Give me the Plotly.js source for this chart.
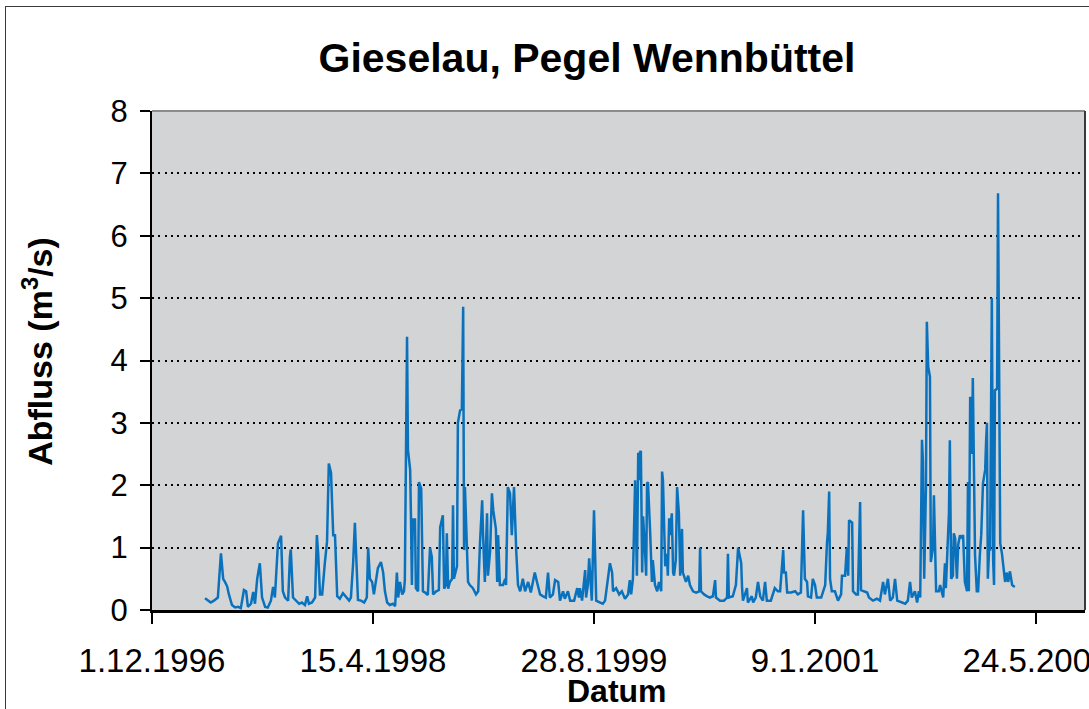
<!DOCTYPE html>
<html>
<head>
<meta charset="utf-8">
<script src="https://cdn.plot.ly/plotly-3.0.1.min.js"></script>
<style>
  html, body { margin: 0; padding: 0; background: #ffffff; overflow: hidden; }
  #wrap { position: relative; width: 1089px; height: 709px; }
  #chart { position: absolute; left: 0; top: 0; width: 1089px; height: 709px; }
  #frame { position: absolute; left: 5px; top: 6px; width: 1200px; height: 800px;
           border: 1.5px solid #3a3a3a; box-sizing: border-box; pointer-events: none; }
</style>
</head>
<body>
<div id="wrap">
  <div id="chart"></div>
  <div id="frame"></div>
</div>
<script>
// Daily discharge, Gieselau at gauge Wennbüttel
const dates = [
  '1997-03-31','1997-04-07','1997-04-13','1997-04-20','1997-04-29','1997-05-06','1997-05-11','1997-05-15',
  '1997-05-20','1997-05-24','1997-05-31','1997-06-07','1997-06-14','1997-06-20','1997-06-27','1997-07-02',
  '1997-07-06','1997-07-13','1997-07-18','1997-07-22','1997-07-27','1997-08-02','1997-08-07','1997-08-14',
  '1997-08-20','1997-08-27','1997-09-01','1997-09-05','1997-09-12','1997-09-19','1997-09-23','1997-09-28',
  '1997-10-05','1997-10-09','1997-10-11','1997-10-16','1997-10-23','1997-10-30','1997-11-05','1997-11-12',
  '1997-11-17','1997-11-21','1997-11-28','1997-12-05','1997-12-09','1997-12-12','1997-12-16','1997-12-21',
  '1997-12-27','1998-01-01','1998-01-05','1998-01-10','1998-01-15','1998-01-19','1998-01-24','1998-01-30',
  '1998-02-06','1998-02-13','1998-02-20','1998-02-24','1998-03-01','1998-03-05','1998-03-10','1998-03-12',
  '1998-03-19','1998-03-26','1998-04-01','1998-04-04','1998-04-08','1998-04-13','1998-04-17','1998-04-22',
  '1998-04-26','1998-05-03','1998-05-08','1998-05-12','1998-05-17','1998-05-23','1998-05-30','1998-06-04',
  '1998-06-08','1998-06-11','1998-06-15','1998-06-20','1998-06-24','1998-06-26','1998-07-01','1998-07-03',
  '1998-07-08','1998-07-10','1998-07-12','1998-07-14','1998-07-19','1998-07-21','1998-07-26','1998-07-28',
  '1998-08-02','1998-08-06','1998-08-11','1998-08-17','1998-08-22','1998-08-26','1998-08-29','1998-09-05',
  '1998-09-11','1998-09-14','1998-09-18','1998-09-20','1998-09-23','1998-09-27','1998-09-29','1998-10-02',
  '1998-10-06','1998-10-11','1998-10-13','1998-10-15','1998-10-22','1998-10-24','1998-10-29','1998-11-02',
  '1998-11-05','1998-11-07','1998-11-09','1998-11-14','1998-11-16','1998-11-20','1998-11-27','1998-12-04',
  '1998-12-09','1998-12-13','1998-12-18','1998-12-20','1998-12-24','1998-12-29','1998-12-31','1999-01-05',
  '1999-01-09','1999-01-12','1999-01-18','1999-01-21','1999-01-23','1999-01-27','1999-02-03','1999-02-08',
  '1999-02-10','1999-02-14','1999-02-19','1999-02-23','1999-02-28','1999-03-05','1999-03-09','1999-03-14',
  '1999-03-20','1999-03-25','1999-04-01','1999-04-07','1999-04-16','1999-04-21','1999-04-28','1999-05-05',
  '1999-05-11','1999-05-16','1999-05-20','1999-05-27','1999-06-01','1999-06-08','1999-06-12','1999-06-19',
  '1999-06-23','1999-06-30','1999-07-05','1999-07-14','1999-07-21','1999-07-25','1999-07-27','1999-08-01',
  '1999-08-08','1999-08-10','1999-08-14','1999-08-17','1999-08-21','1999-08-23','1999-08-28','1999-09-02',
  '1999-09-11','1999-09-17','1999-09-22','1999-09-26','1999-10-03','1999-10-08','1999-10-10','1999-10-17',
  '1999-10-24','1999-10-30','1999-11-06','1999-11-13','1999-11-17','1999-11-20','1999-11-24','1999-11-29',
  '1999-12-03','1999-12-06','1999-12-08','1999-12-10','1999-12-12','1999-12-15','1999-12-17','1999-12-21',
  '1999-12-24','1999-12-26','1999-12-28','2000-01-02','2000-01-06','2000-01-08','2000-01-13','2000-01-18',
  '2000-01-22','2000-01-27','2000-01-29','2000-01-31','2000-02-05','2000-02-09','2000-02-11','2000-02-14',
  '2000-02-16','2000-02-20','2000-02-23','2000-02-25','2000-02-29','2000-03-03','2000-03-07','2000-03-10',
  '2000-03-14','2000-03-16','2000-03-23','2000-03-28','2000-04-01','2000-04-08','2000-04-15','2000-04-22',
  '2000-04-24','2000-04-26','2000-05-03','2000-05-10','2000-05-16','2000-05-23','2000-05-28','2000-05-30',
  '2000-06-08','2000-06-17','2000-06-24','2000-06-26','2000-06-28','2000-07-07','2000-07-14','2000-07-19',
  '2000-07-26','2000-07-28','2000-07-30','2000-08-08','2000-08-10','2000-08-19','2000-08-22','2000-08-28',
  '2000-09-02','2000-09-07','2000-09-13','2000-09-18','2000-09-22','2000-10-01','2000-10-10','2000-10-17',
  '2000-10-22','2000-10-29','2000-10-31','2000-11-04','2000-11-07','2000-11-16','2000-11-25','2000-12-01',
  '2000-12-08','2000-12-13','2000-12-17','2000-12-22','2000-12-24','2000-12-31','2001-01-04','2001-01-09',
  '2001-01-13','2001-01-23','2001-02-01','2001-02-05','2001-02-07','2001-02-10','2001-02-12','2001-02-16',
  '2001-02-23','2001-03-02','2001-03-09','2001-03-11','2001-03-18','2001-03-22','2001-03-25','2001-03-27',
  '2001-04-03','2001-04-05','2001-04-12','2001-04-16','2001-04-21','2001-04-23','2001-04-30','2001-05-07',
  '2001-05-11','2001-05-20','2001-05-29','2001-06-05','2001-06-12','2001-06-16','2001-06-23','2001-06-28',
  '2001-07-04','2001-07-09','2001-07-14','2001-07-23','2001-08-01','2001-08-07','2001-08-12','2001-08-16',
  '2001-08-23','2001-08-28','2001-09-01','2001-09-04','2001-09-08','2001-09-10','2001-09-13','2001-09-17',
  '2001-09-19','2001-09-22','2001-09-26','2001-09-28','2001-10-03','2001-10-05','2001-10-10','2001-10-16',
  '2001-10-19','2001-10-26','2001-10-30','2001-11-01','2001-11-06','2001-11-08','2001-11-10','2001-11-13',
  '2001-11-17','2001-11-19','2001-11-22','2001-11-26','2001-11-29','2001-12-03','2001-12-05','2001-12-10',
  '2001-12-14','2001-12-19','2001-12-21','2001-12-23','2001-12-26','2001-12-30','2002-01-01','2002-01-06',
  '2002-01-10','2002-01-13','2002-01-17','2002-01-20','2002-01-24','2002-01-29','2002-01-31','2002-02-02',
  '2002-02-04','2002-02-07','2002-02-09','2002-02-13','2002-02-16','2002-02-18','2002-02-20','2002-02-25',
  '2002-02-27','2002-03-04','2002-03-08','2002-03-10','2002-03-15','2002-03-19','2002-03-22','2002-03-26',
  '2002-03-31','2002-04-06'
];

const abfluss = [
  0.19,0.15,0.12,0.15,0.20,0.91,0.50,0.45,
  0.38,0.25,0.08,0.04,0.05,0.03,0.32,0.30,
  0.05,0.10,0.29,0.10,0.50,0.75,0.20,0.05,
  0.04,0.15,0.37,0.20,1.07,1.19,0.30,0.20,
  0.15,0.85,0.97,0.20,0.15,0.10,0.12,0.08,
  0.22,0.10,0.12,0.20,1.20,0.90,0.25,0.25,
  0.75,1.10,2.35,2.20,1.20,1.20,0.22,0.18,
  0.27,0.20,0.15,0.20,0.75,1.40,0.65,0.16,
  0.15,0.12,0.20,1.00,0.50,0.45,0.25,0.50,
  0.67,0.77,0.60,0.30,0.12,0.08,0.10,0.06,
  0.60,0.20,0.45,0.25,0.30,0.48,4.38,2.57,
  2.25,1.45,0.40,1.45,1.45,0.35,0.30,2.05,
  1.95,0.30,0.28,0.24,1.00,0.85,0.25,0.30,
  0.32,1.33,1.45,1.52,0.34,0.40,1.23,0.34,
  0.45,0.50,1.68,0.50,0.70,3.00,3.20,3.22,
  4.86,0.96,1.97,0.80,0.45,0.40,0.35,0.25,
  0.30,1.07,1.76,1.20,0.45,1.55,0.55,0.95,
  1.87,1.60,1.30,0.45,1.20,0.40,0.40,0.50,
  0.40,1.97,1.87,1.20,1.97,0.95,0.40,0.30,
  0.50,0.30,0.45,0.28,0.60,0.45,0.25,0.22,
  0.20,0.60,0.20,0.25,0.48,0.45,0.15,0.30,
  0.18,0.30,0.15,0.15,0.35,0.20,0.35,0.15,
  0.64,0.20,0.40,0.83,0.40,0.15,1.60,0.15,
  0.12,0.10,0.15,0.40,0.75,0.60,0.30,0.35,
  0.25,0.30,0.18,0.25,0.48,0.25,0.50,2.08,
  0.55,2.52,2.08,2.53,2.55,0.60,1.50,1.00,
  0.55,2.03,2.05,1.25,0.45,0.80,0.40,0.30,
  0.45,0.30,2.22,2.08,0.70,0.90,0.55,1.47,
  1.20,1.55,0.60,0.55,0.80,1.97,1.55,0.55,
  1.30,0.60,0.45,0.55,0.40,0.30,0.28,0.30,
  1.00,0.30,0.25,0.22,0.20,0.22,0.48,0.20,
  0.15,0.15,0.20,0.90,0.20,0.22,0.40,1.00,
  0.75,0.35,0.15,0.35,0.12,0.22,0.12,0.20,
  0.45,0.22,0.15,0.45,0.15,0.15,0.35,0.30,
  0.30,0.96,0.60,0.60,0.28,0.28,0.30,0.25,
  0.28,1.60,0.50,0.45,0.22,0.20,0.50,0.40,
  0.20,0.20,0.40,1.07,1.25,1.90,0.50,0.30,
  0.30,0.15,0.25,0.55,0.55,1.00,0.55,1.44,
  1.40,0.30,0.25,0.25,1.73,0.32,0.30,0.28,
  0.20,0.15,0.18,0.15,0.45,0.25,0.50,0.15,
  0.20,0.50,0.15,0.12,0.10,0.15,0.45,0.20,
  0.30,0.12,0.30,0.20,2.73,2.40,0.50,2.00,
  4.62,3.90,3.74,0.77,1.00,1.84,0.30,0.30,
  0.40,0.20,0.75,0.35,1.33,1.55,2.72,0.50,
  0.55,1.23,1.15,0.50,1.05,1.20,1.15,1.20,
  0.45,0.30,2.05,0.30,3.42,2.50,3.72,0.88,
  0.30,0.30,0.90,1.20,2.03,2.25,2.70,3.00,
  0.50,1.00,0.95,5.00,0.80,0.40,3.52,3.55,
  6.68,1.07,0.90,0.75,0.45,0.60,0.45,0.62,
  0.40,0.37
];

const xTickDates  = ['1996-12-01','1998-04-15','1999-08-28','2001-01-09','2002-05-24'];
const xTickLabels = ['1.12.1996','15.4.1998','28.8.1999','9.1.2001','24.5.2002'];
const yTickValues = [0,1,2,3,4,5,6,7,8];

const FONT = 'Liberation Sans, Arial, Helvetica, sans-serif';

const trace = {
  type: 'scatter',
  mode: 'lines',
  x: dates,
  y: abfluss,
  line: { color: '#0a72bd', width: 2.5 },
  hoverinfo: 'x+y'
};

const layout = {
  width: 1089,
  height: 709,
  paper_bgcolor: 'rgba(0,0,0,0)',
  plot_bgcolor: '#d3d4d6',
  margin: { l: 152, r: 4, t: 111, b: 99, pad: 0 },
  showlegend: false,
  title: {
    text: '<b>Gieselau, Pegel Wennbüttel</b>',
    font: { family: FONT, size: 41, color: '#000000' },
    x: 0.539, xref: 'container', xanchor: 'center',
    y: 0.918, yref: 'container', yanchor: 'middle'
  },
  xaxis: {
    type: 'date',
    range: ['1996-12-01', '2002-09-11 19:00'],
    tickmode: 'array',
    tickvals: xTickDates,
    ticktext: xTickLabels,
    ticks: 'outside', ticklen: 11, tickwidth: 2, tickcolor: '#000000',
    showline: true, linecolor: '#000000', linewidth: 2.5,
    showgrid: false, zeroline: false,
    tickfont: { family: FONT, size: 33, color: '#000000' },
    ticklabelstandoff: 9,
    ticklabeloverflow: 'allow',
    automargin: false
  },
  yaxis: {
    range: [0, 8],
    tickmode: 'array',
    tickvals: yTickValues,
    ticks: 'outside', ticklen: 10, tickwidth: 2, tickcolor: '#000000',
    showline: true, linecolor: '#000000', linewidth: 2,
    showgrid: true, gridcolor: '#000000', gridwidth: 2, griddash: '2px,4.3px',
    zeroline: false,
    tickfont: { family: FONT, size: 31, color: '#000000' },
    ticklabelstandoff: 6,
    automargin: false
  },
  annotations: [{
    text: '<b>Datum</b>', xref: 'paper', yref: 'paper',
    x: 0.498, y: -0.163, xanchor: 'center', yanchor: 'middle', showarrow: false,
    font: { family: FONT, size: 32, color: '#000000' }
  }, {
    text: '<b>Abfluss (m<sup>3</sup>/s)</b>', xref: 'paper', yref: 'paper',
    x: -0.1235, y: 0.519, xanchor: 'center', yanchor: 'middle', showarrow: false, textangle: -90,
    font: { family: FONT, size: 34, color: '#000000' }
  }],
  shapes: [{
    type: 'line', xref: 'paper', yref: 'paper', x0: 0, x1: 1, y0: 1, y1: 1,
    line: { color: '#8c8c8c', width: 2 }, layer: 'above'
  }, {
    type: 'line', xref: 'paper', yref: 'paper', x0: 1, x1: 1, y0: 0, y1: 1,
    line: { color: '#3a3a3a', width: 2 }, layer: 'above'
  }]
};

Plotly.newPlot('chart', [trace], layout, { displayModeBar: false, staticPlot: true });
</script>
</body>
</html>
